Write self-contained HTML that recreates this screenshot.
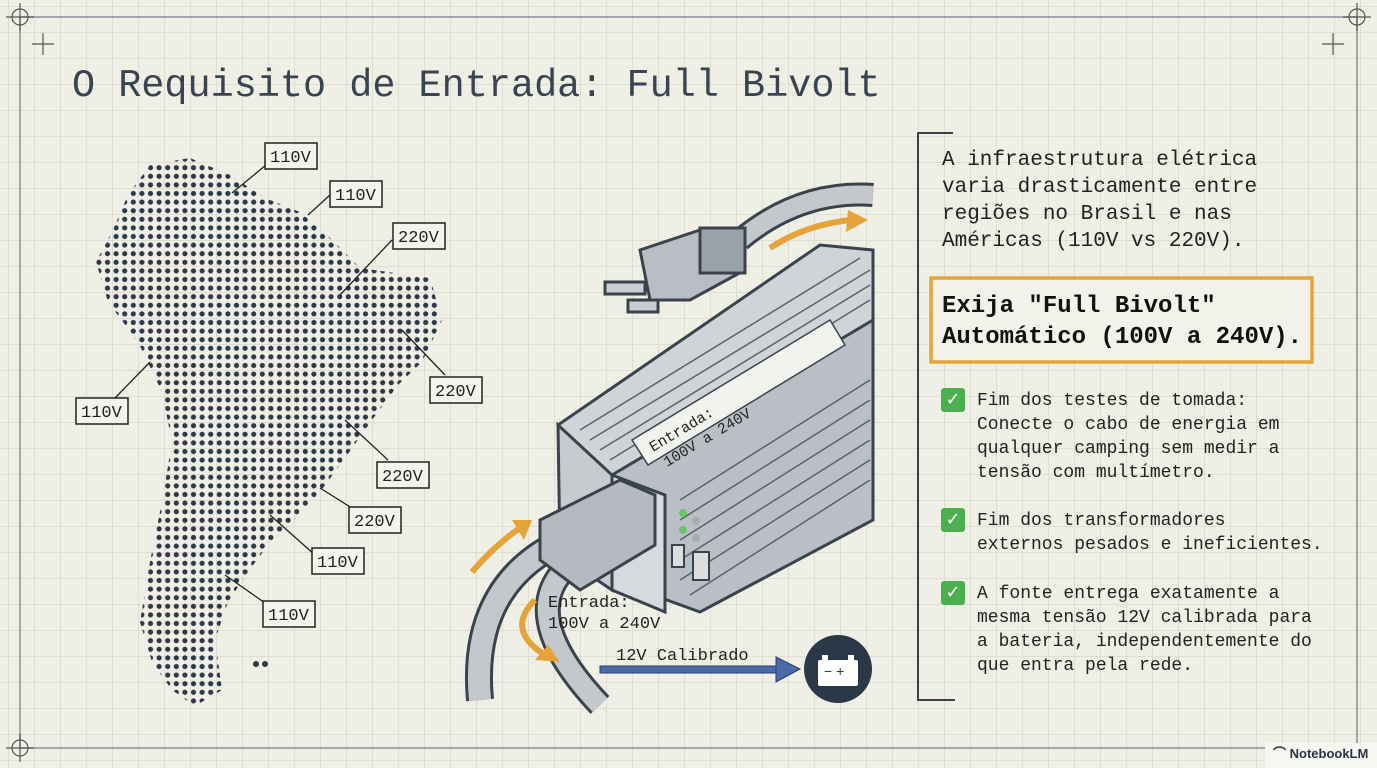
<!DOCTYPE html>
<html><head><meta charset="utf-8"><style>
body{margin:0;width:1377px;height:768px;overflow:hidden;background:#efefe6;font-family:"Liberation Mono",monospace;color:#2b3440}
.abs{position:absolute}
.grid{position:absolute;left:0;top:0;width:1377px;height:768px;
background-image:linear-gradient(#deded5 1px,transparent 1px),linear-gradient(90deg,#deded5 1px,transparent 1px);background-size:26px 26px;background-position:8px 6px}
.t{font-size:21px;line-height:27px;color:#222}
.b{font-size:18px;line-height:24px;color:#222}
.chk{position:absolute;width:24px;height:24px;background:#4caf50;border-radius:3px;color:#fff;font:bold 18px "DejaVu Sans",sans-serif;text-align:center;line-height:24px}
</style></head><body>
<div class="grid"></div>
<svg class="abs" style="left:0;top:0" width="1377" height="768">
<defs>
<pattern id="dots" x="0" y="0" width="8.6" height="8.6" patternUnits="userSpaceOnUse"><circle cx="4.3" cy="4.3" r="2.6" fill="#2e3948"/></pattern>
</defs>
<rect x="20" y="17" width="1337" height="731" fill="none" stroke="#8a9098" stroke-width="1.5"/>
<g stroke="#555" stroke-width="1.2" fill="none">
<circle cx="20" cy="17" r="8"/><line x1="6" y1="17" x2="34" y2="17"/><line x1="20" y1="3" x2="20" y2="31"/>
<circle cx="1357" cy="17" r="8"/><line x1="1343" y1="17" x2="1371" y2="17"/><line x1="1357" y1="3" x2="1357" y2="31"/>
<circle cx="20" cy="748" r="8"/><line x1="6" y1="748" x2="34" y2="748"/><line x1="20" y1="734" x2="20" y2="762"/>
<line x1="32" y1="44" x2="54" y2="44"/><line x1="43" y1="33" x2="43" y2="55"/>
<line x1="1322" y1="44" x2="1344" y2="44"/><line x1="1333" y1="33" x2="1333" y2="55"/>
</g>
<path d="M150,165 L190,158 L230,175 L265,198 L300,212 L330,238 L360,268 L430,278 L442,320 L422,362 L398,385 L372,420 L345,458 L320,492 L292,522 L268,545 L248,572 L228,602 L215,640 L222,690 L195,706 L172,690 L152,662 L140,622 L150,562 L162,502 L172,442 L162,392 L138,342 L108,302 L96,262 L112,232 L128,195 Z" fill="url(#dots)"/>
<circle cx="256" cy="664" r="3" fill="#2e3948"/><circle cx="265" cy="664" r="3" fill="#2e3948"/>
<g stroke="#222" stroke-width="1.3">
<line x1="266" y1="165" x2="232" y2="193"/><line x1="330" y1="195" x2="308" y2="215"/>
<line x1="392" y1="240" x2="340" y2="295"/><line x1="402" y1="330" x2="445" y2="375"/>
<line x1="150" y1="362" x2="115" y2="398"/><line x1="345" y1="420" x2="388" y2="460"/>
<line x1="320" y1="488" x2="355" y2="510"/><line x1="270" y1="515" x2="315" y2="555"/>
<line x1="225" y1="575" x2="268" y2="605"/>
</g>
<g font-family="Liberation Mono" font-size="17" fill="#222">
<g fill="#f4f4ec" stroke="#222" stroke-width="1.5">
<rect x="265" y="143" width="52" height="26"/><rect x="330" y="181" width="52" height="26"/>
<rect x="393" y="223" width="52" height="26"/><rect x="430" y="377" width="52" height="26"/>
<rect x="76" y="398" width="52" height="26"/><rect x="377" y="462" width="52" height="26"/>
<rect x="349" y="507" width="52" height="26"/><rect x="312" y="548" width="52" height="26"/>
<rect x="263" y="601" width="52" height="26"/>
</g>
<text x="270" y="162">110V</text><text x="335" y="200">110V</text><text x="398" y="242">220V</text>
<text x="435" y="396">220V</text><text x="81" y="417">110V</text><text x="382" y="481">220V</text>
<text x="354" y="526">220V</text><text x="317" y="567">110V</text><text x="268" y="620">110V</text>
</g>
<path d="M740,240 Q800,190 873,195" stroke="#3a424c" stroke-width="24" fill="none"/>
<path d="M740,240 Q800,190 873,195" stroke="#c4c8cc" stroke-width="18" fill="none"/>
<path d="M555,545 Q470,590 480,700" stroke="#3a424c" stroke-width="28" fill="none"/>
<path d="M555,545 Q470,590 480,700" stroke="#c4c8cc" stroke-width="22" fill="none"/>
<path d="M575,560 Q510,610 600,705" stroke="#3a424c" stroke-width="26" fill="none"/>
<path d="M575,560 Q510,610 600,705" stroke="#c4c8cc" stroke-width="20" fill="none"/>
<path d="M640,250 L700,230 L740,230 L745,270 L690,300 L650,300 Z" fill="#b8bec4" stroke="#3a424c" stroke-width="3"/>
<rect x="700" y="228" width="45" height="45" fill="#9aa2aa" stroke="#3a424c" stroke-width="3"/>
<rect x="605" y="282" width="40" height="12" fill="#c9ced3" stroke="#3a424c" stroke-width="3"/>
<rect x="628" y="300" width="30" height="12" fill="#c9ced3" stroke="#3a424c" stroke-width="3"/>
<polygon points="558,425 820,245 873,250 873,420 612,580" fill="#d0d4d8" stroke="#3a424c" stroke-width="3"/>
<polygon points="612,475 873,320 873,520 700,612 612,580" fill="#b9bfc5" stroke="#3a424c" stroke-width="3"/>
<polygon points="558,425 612,475 612,590 560,555" fill="#c6cbd0" stroke="#3a424c" stroke-width="3"/>
<polygon points="612,475 665,495 665,612 612,590" fill="#d6dade" stroke="#3a424c" stroke-width="3"/>
<g stroke="#59616b" stroke-width="1.5">
<line x1="580" y1="430" x2="860" y2="258"/><line x1="590" y1="440" x2="870" y2="270"/>
<line x1="600" y1="450" x2="870" y2="285"/><line x1="610" y1="460" x2="870" y2="300"/>
<line x1="680" y1="500" x2="870" y2="380"/><line x1="680" y1="520" x2="870" y2="400"/>
<line x1="680" y1="540" x2="870" y2="420"/><line x1="680" y1="560" x2="870" y2="440"/>
<line x1="680" y1="580" x2="870" y2="460"/><line x1="690" y1="595" x2="870" y2="480"/>
</g>
<polygon points="632,440 830,320 845,345 648,465" fill="#f2f2ee" stroke="#3a424c" stroke-width="1.5"/>
<text x="0" y="0" transform="translate(653,452) rotate(-31)" font-family="Liberation Mono" font-size="15" fill="#222">Entrada:</text>
<text x="0" y="0" transform="translate(667,467) rotate(-31)" font-family="Liberation Mono" font-size="15" fill="#222">100V a 240V</text>
<circle cx="683" cy="513" r="4" fill="#6cc46c"/><circle cx="683" cy="530" r="4" fill="#6cc46c"/>
<circle cx="696" cy="521" r="4" fill="#aaa"/><circle cx="696" cy="538" r="4" fill="#aaa"/>
<rect x="672" y="545" width="12" height="22" fill="#ddd" stroke="#3a424c" stroke-width="2"/>
<rect x="693" y="552" width="16" height="28" fill="#ddd" stroke="#3a424c" stroke-width="2"/>
<polygon points="540,520 620,480 655,495 655,545 580,590 540,560" fill="#b4bac0" stroke="#3a424c" stroke-width="3"/>
<g fill="none" stroke="#e5a33a" stroke-width="6">
<path d="M770,248 Q805,225 850,220"/><path d="M472,572 Q495,545 520,528"/><path d="M535,600 Q505,630 545,655"/>
</g>
<polygon points="848,210 868,220 846,232" fill="#e5a33a"/>
<polygon points="512,520 532,520 524,540" fill="#e5a33a"/>
<polygon points="535,660 560,662 548,645" fill="#e5a33a"/>
<text x="548" y="607" font-family="Liberation Mono" font-size="17" fill="#222">Entrada:</text>
<text x="548" y="628" font-family="Liberation Mono" font-size="17" fill="#222">100V a 240V</text>
<text x="616" y="660" font-family="Liberation Mono" font-size="17" fill="#222">12V Calibrado</text>
<rect x="600" y="666" width="178" height="7" fill="#4a6aa8" stroke="#2b3f6a"/>
<polygon points="776,657 800,669 776,682" fill="#4a6aa8" stroke="#2b3f6a"/>
<circle cx="838" cy="669" r="34" fill="#2a3848"/>
<rect x="818" y="660" width="40" height="26" rx="2" fill="#fff"/><rect x="822" y="655" width="6" height="5" fill="#fff"/><rect x="848" y="655" width="6" height="5" fill="#fff"/>
<text x="824" y="676" font-size="14" fill="#2a3848" font-family="Liberation Sans">−  +</text>
<path d="M953,133 L918,133 L918,700 L955,700" fill="none" stroke="#3a424c" stroke-width="2"/>
<rect x="931" y="278" width="381" height="84" fill="#f2f2ea" stroke="#e5a33a" stroke-width="3.5"/>
</svg>
<div class="abs" style="left:72px;top:64px;font-size:38.5px;color:#3a4450">O Requisito de Entrada: Full Bivolt</div>
<div class="abs t" style="left:942px;top:147px">A infraestrutura elétrica<br>varia drasticamente entre<br>regiões no Brasil e nas<br>Américas (110V vs 220V).</div>
<div class="abs" style="left:942px;top:291px;font-size:24px;line-height:31px;font-weight:bold;color:#111">Exija "Full Bivolt"<br>Automático (100V a 240V).</div>
<div class="chk" style="left:941px;top:388px">✓</div>
<div class="abs b" style="left:977px;top:389px">Fim dos testes de tomada:<br>Conecte o cabo de energia em<br>qualquer camping sem medir a<br>tensão com multímetro.</div>
<div class="chk" style="left:941px;top:508px">✓</div>
<div class="abs b" style="left:977px;top:509px">Fim dos transformadores<br>externos pesados e ineficientes.</div>
<div class="chk" style="left:941px;top:581px">✓</div>
<div class="abs b" style="left:977px;top:582px">A fonte entrega exatamente a<br>mesma tensão 12V calibrada para<br>a bateria, independentemente do<br>que entra pela rede.</div>
<div class="abs" style="left:1265px;top:743px;width:112px;height:25px;background:#f6f6f2;font:bold 13px 'Liberation Sans',sans-serif;line-height:22px;padding-left:8px;box-sizing:border-box">⌒ NotebookLM</div>
</body></html>
